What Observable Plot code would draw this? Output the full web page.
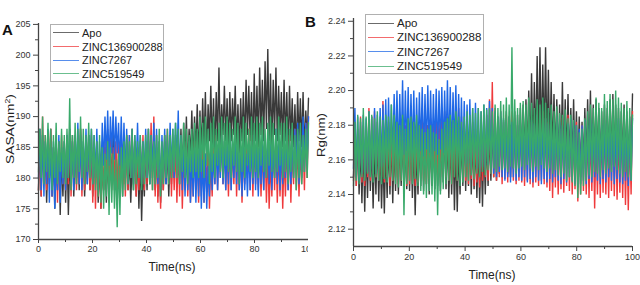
<!DOCTYPE html>
<html><head><meta charset="utf-8">
<script src="https://cdn.jsdelivr.net/npm/d3@7"></script>
<script src="https://cdn.jsdelivr.net/npm/@observablehq/plot@0.6"></script>
<style>
body{margin:0;background:#fff;font-family:"Liberation Sans",Arial,sans-serif;}
#wrap{position:relative;width:640px;height:285px;overflow:hidden;background:#fff}
.panel{position:absolute;top:0}
.plab{position:absolute;font-weight:bold;font-size:15px;color:#111}
.ttl{position:absolute;color:#222;white-space:nowrap}
.legend{position:absolute;border:1px solid #b0b0b0;background:#fff;color:#222;box-sizing:border-box}
.legend div{display:flex;align-items:center;white-space:nowrap}
.legend span.sw{display:inline-block;width:26px;height:0;border-top:1px solid;margin-right:3px;opacity:.75}
</style></head>
<body><div id="wrap"></div>
<script>
// ---- data (alternating troughs/peaks, 0–100 ns) ----
const series = ["Apo","ZINC136900288","ZINC7267","ZINC519549"];
const colors = ["#3a3a3a","#ef3a3c","#1f68e6","#39a96a"];
const xTicks = [0,20,40,60,80,100];
const xMinor = [10,30,50,70,90];
const sasaTicks = [170,175,180,185,190,195,200,205];
const sasaMinor = [172.5,177.5,182.5,187.5,192.5,197.5,202.5];
const rgTicks = [2.12,2.14,2.16,2.18,2.20,2.22,2.24];
const rgMinor = [2.13,2.15,2.17,2.19,2.21,2.23];

const sasaApo = [
178,186,177,187,180,185,176,184,179,188,177,185,175,183,178,186,174,184,177,185,
176,186,174,183,178,187,177,185,179,186,178,188,180,185,177,184,179,187,178,185,
177,184,179,186,176,183,175,182,178,185,176,184,177,185,179,187,178,184,176,183,
178,185,177,186,179,187,178,184,176,183,178,186,177,185,175,184,173,182,177,185,
178,186,179,187,180,186,178,185,177,184,176,185,178,186,179,185,177,184,179,186,
180,187,179,186,181,188,180,189,182,190,181,188,183,191,182,190,184,192,183,191,
184,193,185,194,183,192,186,195,185,193,184,194,186,198,185,192,187,195,186,193,
185,194,186,193,187,195,185,192,184,193,186,194,185,196,187,195,186,194,184,197,
186,195,185,198,187,196,186,199,188,201,186,197,185,196,187,198,186,195,187,194,
185,196,186,194,184,195,186,193,185,192,184,194,186,193,185,194,184,191,186,193];
const sasaZ136 = [
178,188,177,190,179,187,178,186,180,188,177,185,179,187,176,186,178,187,179,186,
178,187,179,188,177,186,180,187,178,186,179,188,177,185,178,187,180,186,178,187,
176,186,175,185,177,184,175,183,178,186,179,188,176,187,178,185,179,186,177,186,
178,187,179,186,177,185,178,187,180,188,179,186,177,185,178,186,179,187,178,186,
179,188,180,189,178,190,177,187,176,186,175,185,178,187,180,188,179,187,177,186,
178,186,176,185,177,187,175,184,178,186,177,185,176,184,177,186,178,185,176,184,
177,185,176,184,178,186,175,183,177,185,179,187,178,186,180,187,179,186,178,185,
177,186,178,185,179,187,177,186,178,185,176,184,179,186,180,188,178,187,177,186,
179,187,178,186,177,185,178,186,176,185,175,183,177,186,178,187,176,185,177,186,
175,184,177,186,178,187,176,185,179,188,178,186,177,185,179,187,178,189,180,190];
const sasaZ7267 = [
180,188,178,187,177,186,179,188,176,185,177,186,175,184,178,187,176,185,179,186,
178,187,180,188,179,186,178,187,180,189,179,187,178,186,180,188,179,187,181,188,
179,187,180,188,178,186,180,189,182,190,183,191,182,190,184,191,183,190,184,189,
182,190,181,189,180,188,179,187,180,188,179,187,181,189,180,187,179,186,180,188,
180,188,179,187,181,189,180,188,179,186,178,187,180,188,179,187,180,189,181,188,
180,189,182,191,179,187,178,186,177,185,178,186,176,184,177,185,176,184,177,185,
175,183,176,184,175,182,177,185,178,184,179,186,178,185,180,187,179,186,178,186,
179,187,178,186,180,187,179,186,178,185,177,186,178,184,177,185,178,186,179,187,
178,186,177,185,179,187,178,186,180,187,179,186,178,185,180,188,179,187,178,186,
179,187,180,188,178,186,179,187,180,188,181,189,179,187,180,190,181,189,182,190];
const sasaZ519 = [
181,188,180,190,179,187,181,189,180,188,178,187,180,189,179,186,181,188,180,187,
179,188,180,193,178,187,180,189,179,188,181,190,180,188,179,187,181,189,180,188,
179,187,178,186,177,187,176,185,175,184,177,186,174,185,176,184,175,183,172,184,
174,185,177,186,178,187,179,186,180,188,178,187,179,186,180,187,178,186,179,187,
180,188,179,187,178,186,179,187,180,188,177,186,179,187,180,188,179,187,180,188,
181,189,180,188,179,187,181,189,180,188,179,187,181,188,180,189,181,188,180,190,
181,189,180,190,182,188,179,189,181,190,180,188,182,189,181,190,180,189,182,190,
181,189,180,188,182,190,181,189,179,188,181,190,180,189,182,188,181,190,180,189,
181,190,180,189,182,190,181,188,180,189,182,190,181,189,180,188,181,190,182,189,
180,189,181,190,179,188,181,189,180,187,178,188,180,189,179,187,181,188,180,189];

const rgApo = [
2.150,2.180,2.145,2.175,2.140,2.170,2.135,2.172,2.130,2.168,2.138,2.175,2.142,2.170,2.132,2.168,2.140,2.176,2.136,2.170,
2.132,2.165,2.129,2.168,2.138,2.172,2.140,2.175,2.135,2.170,2.142,2.178,2.140,2.172,2.145,2.176,2.140,2.170,2.143,2.175,
2.142,2.176,2.138,2.172,2.128,2.168,2.140,2.174,2.145,2.178,2.142,2.175,2.146,2.180,2.140,2.176,2.145,2.178,2.143,2.175,
2.145,2.178,2.142,2.175,2.147,2.180,2.143,2.176,2.138,2.172,2.140,2.175,2.131,2.170,2.130,2.168,2.140,2.175,2.145,2.180,
2.142,2.176,2.145,2.178,2.140,2.175,2.143,2.172,2.138,2.170,2.135,2.168,2.133,2.170,2.140,2.175,2.145,2.178,2.148,2.182,
2.150,2.182,2.148,2.180,2.152,2.185,2.150,2.183,2.155,2.188,2.152,2.185,2.150,2.182,2.155,2.188,2.153,2.186,2.157,2.190,
2.158,2.192,2.160,2.195,2.162,2.200,2.165,2.210,2.163,2.205,2.166,2.220,2.165,2.225,2.168,2.215,2.170,2.225,2.166,2.212,
2.165,2.205,2.162,2.198,2.160,2.195,2.158,2.192,2.160,2.205,2.157,2.195,2.160,2.198,2.155,2.190,2.158,2.195,2.156,2.188,
2.152,2.185,2.150,2.182,2.155,2.190,2.158,2.195,2.160,2.200,2.156,2.192,2.158,2.195,2.160,2.190,2.157,2.188,2.160,2.192,
2.158,2.190,2.160,2.195,2.157,2.198,2.160,2.192,2.158,2.190,2.156,2.188,2.160,2.192,2.157,2.188,2.155,2.185,2.160,2.198];
const rgZ136 = [
2.148,2.182,2.145,2.178,2.150,2.185,2.147,2.180,2.145,2.178,2.150,2.190,2.148,2.185,2.152,2.188,2.150,2.182,2.148,2.180,
2.150,2.194,2.147,2.185,2.150,2.182,2.145,2.178,2.148,2.180,2.150,2.185,2.146,2.178,2.148,2.182,2.150,2.180,2.145,2.178,
2.146,2.180,2.148,2.182,2.145,2.178,2.147,2.180,2.150,2.185,2.148,2.182,2.146,2.180,2.149,2.184,2.147,2.181,2.150,2.185,
2.148,2.182,2.150,2.186,2.152,2.188,2.150,2.185,2.148,2.182,2.146,2.180,2.150,2.186,2.148,2.190,2.152,2.185,2.150,2.182,
2.148,2.180,2.146,2.178,2.149,2.182,2.145,2.178,2.147,2.180,2.144,2.176,2.148,2.182,2.150,2.186,2.148,2.195,2.152,2.205,
2.150,2.190,2.148,2.185,2.150,2.188,2.146,2.182,2.149,2.186,2.147,2.183,2.150,2.188,2.148,2.184,2.146,2.180,2.148,2.183,
2.147,2.182,2.145,2.180,2.148,2.185,2.146,2.182,2.144,2.180,2.147,2.186,2.145,2.182,2.148,2.188,2.146,2.184,2.144,2.182,
2.142,2.180,2.138,2.176,2.144,2.182,2.140,2.178,2.143,2.184,2.141,2.180,2.145,2.186,2.142,2.182,2.140,2.178,2.143,2.182,
2.136,2.175,2.140,2.180,2.142,2.182,2.140,2.178,2.138,2.176,2.142,2.180,2.132,2.176,2.140,2.182,2.138,2.178,2.141,2.183,
2.140,2.180,2.138,2.178,2.142,2.184,2.139,2.180,2.137,2.176,2.141,2.182,2.138,2.178,2.134,2.175,2.131,2.176,2.140,2.188];
const rgZ7267 = [
2.155,2.190,2.150,2.185,2.148,2.182,2.152,2.186,2.150,2.184,2.153,2.188,2.151,2.185,2.154,2.190,2.152,2.186,2.155,2.190,
2.156,2.192,2.158,2.195,2.160,2.196,2.158,2.192,2.162,2.198,2.164,2.200,2.162,2.198,2.165,2.206,2.163,2.200,2.165,2.202,
2.162,2.198,2.164,2.200,2.160,2.196,2.163,2.199,2.165,2.202,2.162,2.198,2.166,2.203,2.164,2.200,2.162,2.198,2.165,2.201,
2.163,2.200,2.166,2.202,2.164,2.200,2.167,2.206,2.165,2.202,2.163,2.199,2.166,2.203,2.162,2.198,2.160,2.196,2.158,2.194,
2.156,2.192,2.158,2.195,2.155,2.190,2.157,2.193,2.155,2.190,2.153,2.188,2.156,2.192,2.154,2.190,2.157,2.194,2.155,2.190,
2.152,2.188,2.150,2.185,2.153,2.188,2.150,2.184,2.148,2.182,2.150,2.185,2.147,2.182,2.150,2.184,2.148,2.180,2.150,2.183,
2.148,2.182,2.150,2.185,2.147,2.180,2.149,2.183,2.147,2.181,2.150,2.186,2.148,2.182,2.146,2.180,2.149,2.184,2.147,2.181,
2.149,2.183,2.147,2.180,2.150,2.185,2.148,2.182,2.146,2.180,2.149,2.183,2.147,2.181,2.150,2.184,2.148,2.182,2.146,2.180,
2.144,2.178,2.146,2.180,2.148,2.183,2.146,2.180,2.149,2.184,2.147,2.181,2.150,2.185,2.148,2.182,2.146,2.180,2.149,2.183,
2.147,2.181,2.150,2.185,2.148,2.182,2.146,2.180,2.149,2.184,2.147,2.181,2.146,2.180,2.148,2.183,2.145,2.180,2.148,2.184];
const rgZ519 = [
2.145,2.182,2.148,2.186,2.146,2.184,2.150,2.190,2.148,2.185,2.152,2.188,2.150,2.186,2.147,2.184,2.150,2.188,2.148,2.185,
2.146,2.183,2.149,2.186,2.147,2.185,2.150,2.192,2.148,2.186,2.146,2.182,2.144,2.180,2.148,2.186,2.128,2.178,2.146,2.184,
2.148,2.185,2.146,2.182,2.149,2.186,2.145,2.180,2.142,2.178,2.140,2.176,2.138,2.178,2.142,2.180,2.140,2.176,2.136,2.175,
2.128,2.172,2.140,2.178,2.143,2.182,2.146,2.184,2.148,2.186,2.146,2.183,2.150,2.188,2.148,2.185,2.145,2.182,2.147,2.185,
2.150,2.188,2.148,2.186,2.151,2.190,2.149,2.187,2.152,2.190,2.150,2.188,2.153,2.192,2.151,2.189,2.154,2.190,2.152,2.188,
2.155,2.192,2.153,2.190,2.156,2.194,2.154,2.192,2.155,2.196,2.153,2.192,2.156,2.225,2.155,2.195,2.152,2.190,2.155,2.193,
2.156,2.194,2.154,2.192,2.157,2.196,2.155,2.193,2.153,2.190,2.156,2.195,2.154,2.192,2.157,2.196,2.155,2.193,2.153,2.190,
2.155,2.192,2.152,2.188,2.154,2.191,2.151,2.187,2.150,2.186,2.152,2.189,2.148,2.184,2.150,2.186,2.147,2.183,2.145,2.180,
2.138,2.176,2.140,2.178,2.145,2.184,2.148,2.188,2.151,2.192,2.150,2.190,2.153,2.196,2.152,2.193,2.150,2.190,2.154,2.198,
2.152,2.194,2.155,2.198,2.153,2.195,2.156,2.200,2.154,2.196,2.152,2.193,2.150,2.190,2.153,2.194,2.150,2.190,2.148,2.186];

// ---- build ----
const wrap = document.getElementById("wrap");
function toRows(arr){ const n = arr.length; return arr.map((v,i)=>({t: i*100/(n-1), v})); }

function panel(cfg){
  const marks = [];
  cfg.data.forEach((arr,k)=>{
    marks.push(Plot.line(toRows(arr), {x:"t", y:"v", stroke: colors[k], strokeWidth: 1.4, strokeLinejoin: "miter"}));
  });
  marks.push(Plot.ruleX([0], {stroke:"#444", strokeWidth:1.3}));
  marks.push(Plot.ruleY([cfg.yDomain[0]], {stroke:"#444", strokeWidth:1.3}));
  marks.push(Plot.axisX({ticks: xTicks, tickSize: cfg.xTickSize, tickPadding: cfg.xTickPad, label: null, stroke:"#444", fill:"#333"}));
  marks.push(Plot.axisX({ticks: xMinor, tickSize: 3, tickFormat: () => "", label: null, stroke:"#444"}));
  marks.push(Plot.axisY({ticks: cfg.yTicks, tickSize: 5, tickPadding: 3, tickFormat: cfg.fmt, label: null, stroke:"#444", fill:"#333"}));
  marks.push(Plot.axisY({ticks: cfg.yMinor, tickSize: 3, tickFormat: () => "", label: null, stroke:"#444"}));
  const svg = Plot.plot({
    width: cfg.width, height: 285,
    marginLeft: cfg.ml, marginRight: cfg.mr, marginTop: cfg.mt, marginBottom: cfg.mb,
    x: {domain: [0,100]},
    y: {domain: cfg.yDomain},
    style: {fontFamily: "'Liberation Sans', Arial, sans-serif", fontSize: "9px", color: "#333", background: "transparent", overflow: "visible"},
    marks
  });
  svg.classList.add("panel");
  svg.style.left = cfg.left + "px";
  wrap.appendChild(svg);
}

panel({left: 0, width: 308, ml: 38, mr: 0, mt: 23, mb: 46, yDomain: [170, 205.15],
  data: [sasaApo, sasaZ136, sasaZ7267, sasaZ519], yTicks: sasaTicks, yMinor: sasaMinor,
  fmt: d3.format("d"), xTickSize: 4, xTickPad: 2});
panel({left: 308, width: 332, ml: 45, mr: 8, mt: 18, mb: 39, yDomain: [2.110, 2.2416],
  data: [rgApo, rgZ136, rgZ7267, rgZ519], yTicks: rgTicks, yMinor: rgMinor,
  fmt: d3.format(".2f"), xTickSize: 5, xTickPad: 2});

// mask so panel A's "100" is clipped like the reference
const mask = document.createElement("div");
mask.style.cssText = "position:absolute;left:308px;top:236px;width:40px;height:20px;background:#fff";
wrap.appendChild(mask);

function addDiv(cls, css, html){ const d=document.createElement("div"); d.className=cls; d.style.cssText=css; d.innerHTML=html; wrap.appendChild(d); return d; }

addDiv("plab","left:2px;top:21px;","A");
addDiv("plab","left:305px;top:13px;","B");
addDiv("ttl","left:172px;top:267px;font-size:12px;transform:translate(-50%,-50%);","Time(ns)");
addDiv("ttl","left:492px;top:275px;font-size:12px;transform:translate(-50%,-50%);","Time(ns)");
addDiv("ttl","left:10px;top:129px;font-size:11px;transform:translate(-50%,-50%) rotate(-90deg) scaleX(1.25);","SASA(nm<sup style='font-size:7px;vertical-align:4px'>2</sup>)");
addDiv("ttl","left:321px;top:135px;font-size:11px;transform:translate(-50%,-50%) rotate(-90deg) scaleX(1.2);","Rg(nm)");

function legend(left, top, w, h, fs, rowH, padTop){
  const d = addDiv("legend", `left:${left}px;top:${top}px;width:${w}px;height:${h}px;font-size:${fs}px;padding:${padTop}px 0 0 2px;`, "");
  series.forEach((s,k)=>{
    const r = document.createElement("div");
    r.style.height = rowH + "px";
    r.innerHTML = `<span class="sw" style="border-color:${colors[k]}"></span>${s}`;
    d.appendChild(r);
  });
}
legend(50, 24, 114, 58, 11, 13.7, 1);
legend(365, 14, 119, 60, 11.5, 14.3, 1);
</script></body></html>
